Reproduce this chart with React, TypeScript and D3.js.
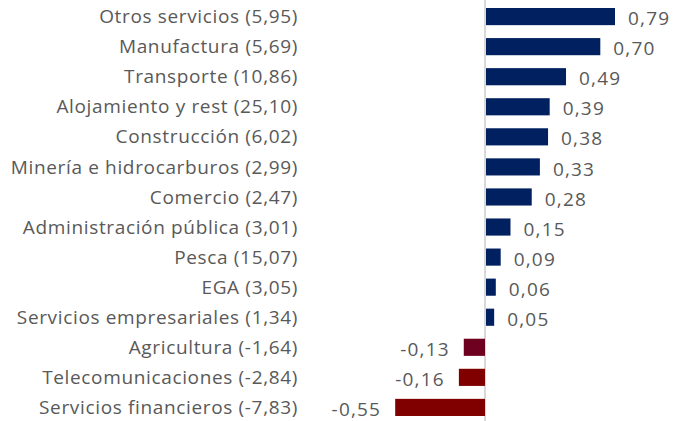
import React from "react";
import * as d3 from "d3";

const categories = [
  "Otros servicios (5,95)",
  "Manufactura (5,69)",
  "Transporte (10,86)",
  "Alojamiento y rest (25,10)",
  "Construcción (6,02)",
  "Minería e hidrocarburos (2,99)",
  "Comercio (2,47)",
  "Administración pública (3,01)",
  "Pesca (15,07)",
  "EGA (3,05)",
  "Servicios empresariales (1,34)",
  "Agricultura (-1,64)",
  "Telecomunicaciones (-2,84)",
  "Servicios financieros (-7,83)",
];
const values = [0.79, 0.7, 0.49, 0.39, 0.38, 0.33, 0.28, 0.15, 0.09, 0.06, 0.05, -0.13, -0.16, -0.55];
const barColors = [
  "#002060", "#002060", "#002060", "#002060", "#002060", "#002060", "#002060",
  "#002060", "#002060", "#002060", "#002060", "#6e0020", "#800000", "#800000",
];

const W = 684;
const H = 421;

export default function App() {
  const x = d3.scaleLinear().domain([0, 0.79]).range([485, 614]);
  const y = d3.scaleBand<string>().domain(categories).range([2, 422]).paddingInner(0.43).paddingOuter(0.2);
  const fmt = (v: number) => d3.format(".2f")(v).replace(".", ",").replace("\u2212", "-");
  const font = "'Open Sans', sans-serif";
  return (
    <svg width={W} height={H} style={{ position: "absolute", left: 0, top: 0 }} fontFamily={font}>
      <line x1={x(0)} x2={x(0)} y1={0} y2={H} stroke="#d9d9d9" strokeWidth={2} />
      {categories.map((c, i) => {
        const v = values[i];
        const yy = y(c)!;
        const bw = y.bandwidth();
        const x0 = Math.min(x(0), x(v));
        const w = Math.abs(x(v) - x(0));
        const cy = yy + bw / 2;
        return (
          <g key={c}>
            <rect x={x0 + (v > 0 ? 1 : 0)} y={yy} width={w} height={bw} fill={barColors[i]} />
            <text x={298} y={cy} dy="0.35em" textAnchor="end" fontSize={19} letterSpacing={0.65} fill="#595959">
              {c}
            </text>
            <text
              x={v >= 0 ? x(v) + 14 : x(v) - 14}
              y={cy + 2}
              dy="0.35em"
              textAnchor={v >= 0 ? "start" : "end"}
              fontSize={19}
              letterSpacing={1.2}
              fill="#595959"
            >
              {fmt(v)}
            </text>
          </g>
        );
      })}
    </svg>
  );
}
